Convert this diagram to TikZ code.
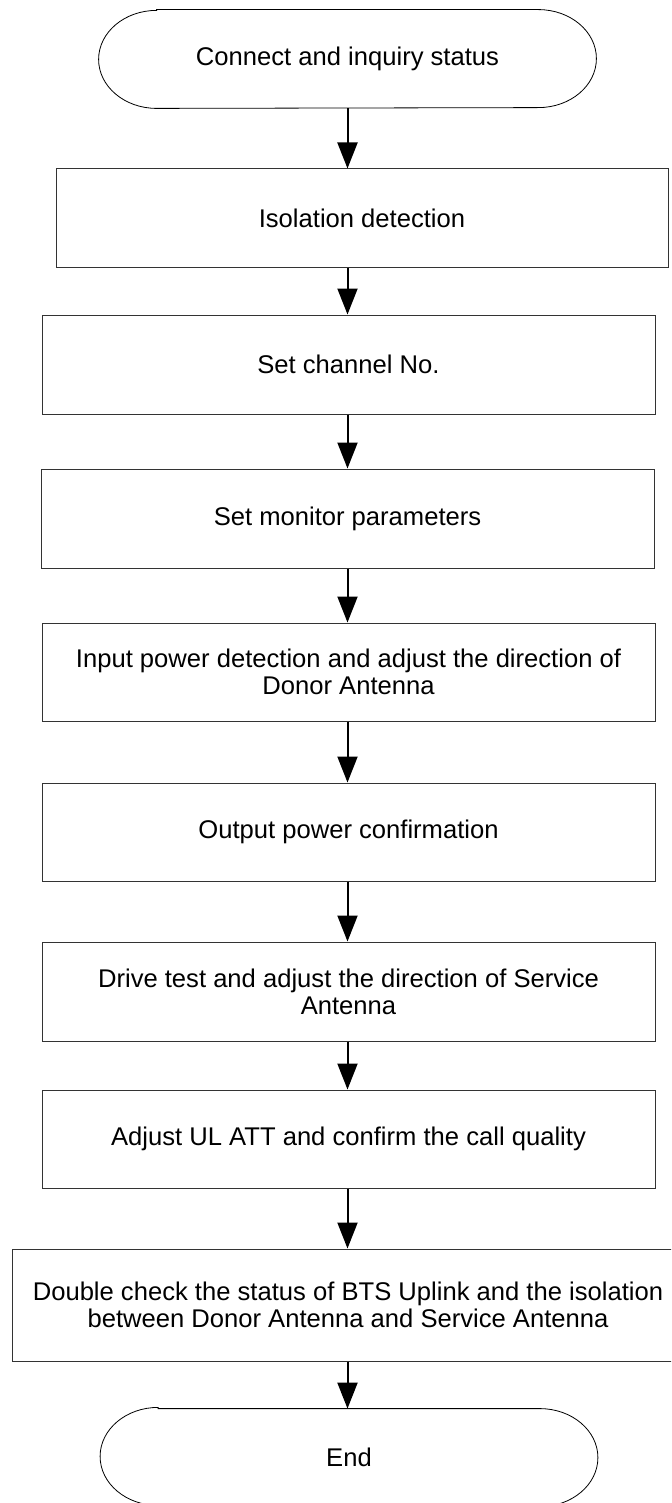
\documentclass[tikz,border=0pt]{standalone}
\usepackage{fontspec}
\setmainfont{Liberation Sans}
\usetikzlibrary{arrows.meta}

% stadium outline round a terminal node
\newcommand{\termoutline}[1]{%
  \draw[line width=0.4pt]
    ([xshift=29pt]#1.north west) -- ([xshift=-29pt]#1.north east)
    arc[start angle=90,end angle=-90,x radius=29pt,y radius=24.5pt]
    -- ([xshift=29pt]#1.south west)
    arc[start angle=270,end angle=90,x radius=29pt,y radius=24.5pt]
    -- cycle;}

\begin{document}
\begin{tikzpicture}[x=0.5pt,y=-0.5pt,
every node/.style={font=\fontsize{12.8pt}{13.5pt}\selectfont,align=center,inner sep=0pt},
stepbox/.style={draw=black!80,line width=0.5pt,minimum width=306.5pt,minimum height=49pt},
terminal/.style={minimum width=248.5pt,minimum height=49pt},
flow/.style={line width=1pt,-{Triangle[length=13pt,width=10pt]}}
]
\useasboundingbox (0,0) rectangle (671,1503);
\clip (0,0) rectangle (671,1503);

  %start and end
  \node[terminal] (start) at (347.5,59) {Connect and inquiry status};
  \node[terminal,minimum height=48pt] (end) at (349,1457) {End};
  \termoutline{start}
  \termoutline{end}

  %steps
  \node[stepbox,minimum width=306pt] (iso) at (362,218) {Isolation detection};
  \node[stepbox,minimum height=49.5pt] (chan) at (348.5,364.5) {Set channel No.};
  \node[stepbox,minimum height=49.5pt] (mon) at (347.5,518.5) {Set monitor parameters};
  \node[stepbox] (inp) at (348.5,672)
    {Input power detection and adjust the direction of\\Donor Antenna};
  \node[stepbox] (outp) at (348.5,832) {Output power confirmation};
  \node[stepbox,minimum height=49.5pt] (drive) at (348.5,991.5)
    {Drive test and adjust the direction of Service\\Antenna};
  \node[stepbox] (ulatt) at (348.5,1139) {Adjust UL ATT and confirm the call quality};
  \node[stepbox,minimum width=336pt,minimum height=56pt] (dbl) at (348,1305)
    {Double check the status of BTS Uplink and the isolation\\between Donor Antenna and Service Antenna};

  %arrows
  \foreach \a/\b in {start/iso,iso/chan,chan/mon,mon/inp,inp/outp,outp/drive,drive/ulatt,ulatt/dbl,dbl/end}
    \draw[flow] (\a.south -| start) -- (\b.north -| start);
\end{tikzpicture}
\end{document}
